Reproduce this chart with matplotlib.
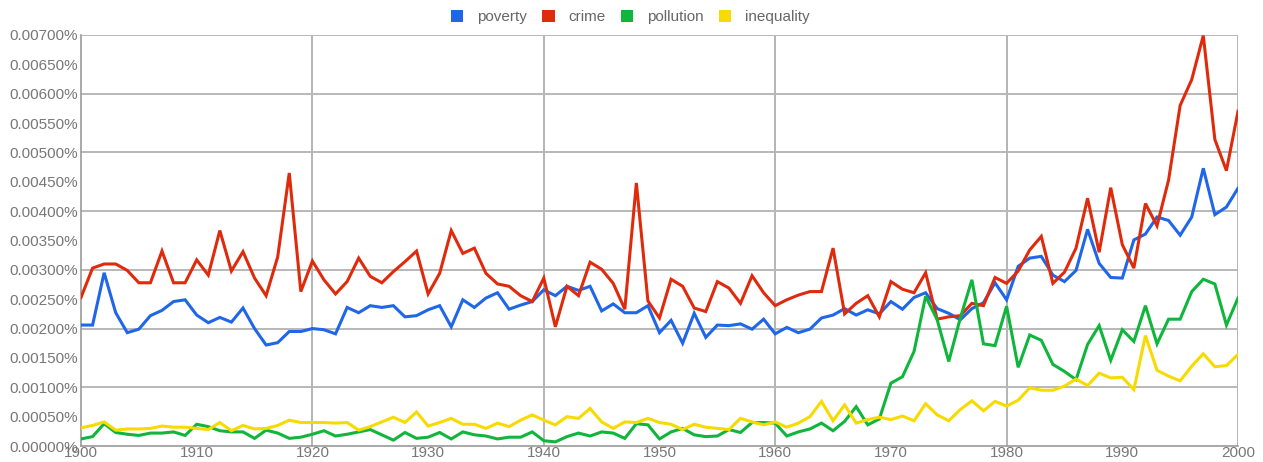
import matplotlib
matplotlib.use("Agg")
import matplotlib.pyplot as plt
from matplotlib.patches import Patch
from matplotlib.ticker import MultipleLocator, FuncFormatter

plt.rcParams['font.family'] = ['Liberation Sans', 'DejaVu Sans']

years = list(range(1900, 2001))

poverty = [
    0.00206, 0.00206, 0.00295, 0.00227, 0.00193, 0.00199, 0.00222, 0.00231, 0.00246, 0.00249,
    0.00223, 0.00210, 0.00219, 0.00211, 0.00235, 0.00200, 0.00172, 0.00176, 0.00195, 0.00195,
    0.00200, 0.00198, 0.00191, 0.00236, 0.00227, 0.00239, 0.00236, 0.00239, 0.00220, 0.00222,
    0.00232, 0.00239, 0.00203, 0.00249, 0.00236, 0.00252, 0.00261, 0.00233, 0.00240, 0.00246,
    0.00266, 0.00256, 0.00272, 0.00265, 0.00272, 0.00230, 0.00242, 0.00227, 0.00227, 0.00239,
    0.00193, 0.00214, 0.00175, 0.00226, 0.00185, 0.00206, 0.00205, 0.00208, 0.00199, 0.00216,
    0.00191, 0.00202, 0.00193, 0.00199, 0.00218, 0.00223, 0.00234, 0.00223, 0.00232, 0.00225,
    0.00246, 0.00233, 0.00253, 0.00261, 0.00234, 0.00226, 0.00215, 0.00234, 0.00244, 0.00278,
    0.00249, 0.00306, 0.00320, 0.00323, 0.00291, 0.00280, 0.00299, 0.00369, 0.00311, 0.00287,
    0.00286, 0.00351, 0.00361, 0.00390, 0.00384, 0.00359, 0.00390, 0.00473, 0.00394, 0.00407,
    0.00439,
]

crime = [
    0.00253, 0.00303, 0.00310, 0.00310, 0.00299, 0.00278, 0.00278, 0.00332, 0.00278, 0.00278,
    0.00317, 0.00291, 0.00367, 0.00298, 0.00331, 0.00286, 0.00256, 0.00322, 0.00465, 0.00263,
    0.00315, 0.00283, 0.00259, 0.00280, 0.00320, 0.00289, 0.00278, 0.00297, 0.00314, 0.00332,
    0.00259, 0.00294, 0.00367, 0.00328, 0.00337, 0.00294, 0.00276, 0.00272, 0.00256, 0.00246,
    0.00286, 0.00203, 0.00272, 0.00256, 0.00313, 0.00301, 0.00277, 0.00233, 0.00448, 0.00247,
    0.00218, 0.00284, 0.00272, 0.00235, 0.00229, 0.00280, 0.00269, 0.00243, 0.00290, 0.00261,
    0.00239, 0.00249, 0.00257, 0.00263, 0.00263, 0.00337, 0.00225, 0.00243, 0.00256, 0.00220,
    0.00280, 0.00267, 0.00261, 0.00295, 0.00216, 0.00220, 0.00222, 0.00243, 0.00239, 0.00287,
    0.00277, 0.00298, 0.00334, 0.00357, 0.00277, 0.00296, 0.00337, 0.00422, 0.00330, 0.00440,
    0.00343, 0.00303, 0.00413, 0.00375, 0.00453, 0.00580, 0.00624, 0.00699, 0.00522, 0.00469,
    0.00570,
]

pollution = [
    0.00012, 0.00016, 0.00038, 0.00023, 0.00020, 0.00018, 0.00022, 0.00022, 0.00024, 0.00018,
    0.00037, 0.00033, 0.00026, 0.00024, 0.00024, 0.00013, 0.00027, 0.00022, 0.00013, 0.00015,
    0.00020, 0.00026, 0.00017, 0.00020, 0.00024, 0.00028, 0.00019, 0.00010, 0.00023, 0.00013,
    0.00015, 0.00023, 0.00012, 0.00024, 0.00019, 0.00017, 0.00012, 0.00015, 0.00015, 0.00024,
    0.00009, 0.00007, 0.00016, 0.00022, 0.00017, 0.00024, 0.00022, 0.00013, 0.00038, 0.00036,
    0.00012, 0.00024, 0.00030, 0.00019, 0.00016, 0.00017, 0.00028, 0.00023, 0.00040, 0.00040,
    0.00039, 0.00017, 0.00024, 0.00029, 0.00039, 0.00026, 0.00042, 0.00067, 0.00036, 0.00046,
    0.00107, 0.00118, 0.00161, 0.00255, 0.00215, 0.00144, 0.00218, 0.00283, 0.00174, 0.00171,
    0.00238, 0.00134, 0.00189, 0.00180, 0.00139, 0.00127, 0.00113, 0.00173, 0.00205, 0.00146,
    0.00198, 0.00178, 0.00239, 0.00174, 0.00216, 0.00216, 0.00263, 0.00284, 0.00276, 0.00206,
    0.00252,
]

inequality = [
    0.00031, 0.00035, 0.00041, 0.00027, 0.00029, 0.00029, 0.00030, 0.00034, 0.00032, 0.00032,
    0.00030, 0.00028, 0.00040, 0.00026, 0.00035, 0.00029, 0.00030, 0.00035, 0.00044, 0.00040,
    0.00040, 0.00040, 0.00039, 0.00040, 0.00027, 0.00033, 0.00041, 0.00049, 0.00040, 0.00058,
    0.00034, 0.00040, 0.00047, 0.00037, 0.00037, 0.00030, 0.00039, 0.00033, 0.00044, 0.00053,
    0.00044, 0.00036, 0.00050, 0.00047, 0.00064, 0.00041, 0.00030, 0.00041, 0.00040, 0.00047,
    0.00040, 0.00037, 0.00028, 0.00037, 0.00032, 0.00030, 0.00028, 0.00047, 0.00041, 0.00036,
    0.00041, 0.00032, 0.00039, 0.00050, 0.00076, 0.00043, 0.00070, 0.00039, 0.00045, 0.00049,
    0.00045, 0.00051, 0.00043, 0.00072, 0.00053, 0.00043, 0.00062, 0.00077, 0.00060, 0.00076,
    0.00068, 0.00078, 0.00099, 0.00095, 0.00095, 0.00102, 0.00114, 0.00103, 0.00124, 0.00116,
    0.00117, 0.00096, 0.00188, 0.00129, 0.00119, 0.00111, 0.00136, 0.00157, 0.00135, 0.00137,
    0.00156,
]

series_names = ["poverty", "crime", "pollution", "inequality"]
series_colors = ["#1f66e8", "#e02a0c", "#10b63c", "#f7db00"]
x_ticks = list(range(1900, 2001, 10))

fig = plt.figure(figsize=(12.63, 4.62), dpi=100)
ax = fig.add_axes([81/1263, 1 - 446/462, (1238 - 81)/1263, (446 - 35)/462])

for data, name, color in zip([poverty, crime, pollution, inequality], series_names, series_colors):
    ax.plot(years, data, color=color, lw=2.2, label=name, solid_joinstyle='miter', zorder=3)

ax.set_xlim(1900, 2000)
ax.set_ylim(0, 0.007)

# grid
for gx in range(1920, 2001, 20):
    ax.axvline(gx, color="#a8a8a8", lw=1.2, zorder=1)
for gy in [0.001, 0.002, 0.003, 0.004, 0.005, 0.006, 0.007]:
    ax.axhline(gy, color="#b8b8b8", lw=1.4, zorder=1)

ax.yaxis.set_major_locator(MultipleLocator(0.0005))
ax.yaxis.set_major_formatter(FuncFormatter(lambda v, p: f"{v:.5f}%"))
ax.set_xticks(x_ticks)
ax.set_xticklabels([str(t) for t in x_ticks])
ax.tick_params(axis='both', length=0, labelsize=11, labelcolor="#777777")
ax.tick_params(axis='y', pad=2)
ax.tick_params(axis='x', pad=0)

for side in ['left', 'bottom']:
    ax.spines[side].set_color("#999999")
    ax.spines[side].set_linewidth(1.2)
for side in ['top', 'right']:
    ax.spines[side].set_visible(False)

handles = [Patch(facecolor=c, edgecolor='none', label=n) for n, c in zip(series_names, series_colors)]
leg = fig.legend(handles=handles, loc='center', bbox_to_anchor=(0.499, 0.963), ncol=4,
                 frameon=False, fontsize=11, handlelength=0.8, handleheight=0.85,
                 handletextpad=0.9, columnspacing=1.0, labelcolor="#666666")

fig.savefig("out.png", dpi=100, facecolor="white")
